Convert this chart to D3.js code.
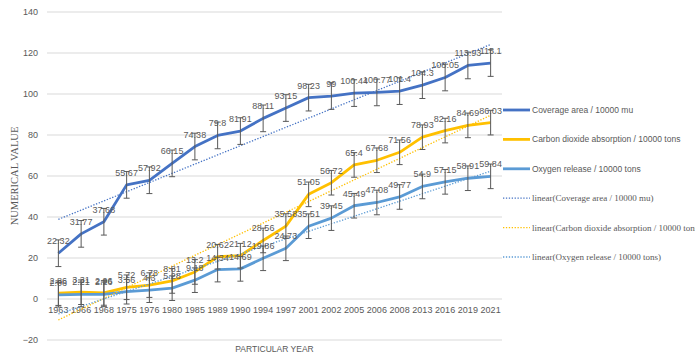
<!DOCTYPE html>
<html>
<head>
<meta charset="utf-8">
<script src="https://cdn.jsdelivr.net/npm/d3@7"></script>
<style>
  html, body { margin: 0; padding: 0; background: #fff; }
  svg { display: block; }
</style>
</head>
<body>
<svg id="chart" width="695" height="356"></svg>
<script>
// Forest growth indicators by year
const years = ["1963","1966","1968","1975","1976","1980","1985","1989","1990","1994",
               "1997","2001","2002","2005","2006","2008","2013","2016","2019","2021"];
const coverageArea = [22.32,31.77,37.68,55.67,57.92,66.15,74.38,79.8,81.91,88.11,
                      93.15,98.23,99,100.44,100.77,101.4,104.3,108.05,113.93,115.1];
const co2Absorption = [2.86,3.31,2.96,5.72,6.78,8.81,13.2,20.62,21.12,28.56,
                       35.58,51.05,56.72,65.4,67.68,71.56,78.93,82.16,84.69,86.03];
const oxygenRelease = [2.06,2.21,2.26,3.56,4.3,5.28,9.18,14.34,14.69,19.86,
                       24.73,35.51,39.45,45.49,47.08,49.77,54.9,57.15,58.91,59.84];
const yTicks = [-20,0,20,40,60,80,100,120,140];

const seriesNames = ["Coverage area / 10000 mu",
                     "Carbon dioxide absorption / 10000 tons",
                     "Oxygen release / 10000 tons"];
const errorSize = [6.5, 6, 6];
const colors = ["#4472C4", "#FFC000", "#5B9BD5"];

const series = [coverageArea, co2Absorption, oxygenRelease].map((vals, i) => ({
  name: seriesNames[i], values: vals, color: colors[i], err: errorSize[i]
}));

const svg = d3.select("#chart");
const plot = { left: 47, right: 502, top: 12, bottom: 340 };

const x = d3.scaleBand().domain(years).range([plot.left, plot.right]);
const y = d3.scaleLinear().domain([-20, 140]).range([plot.bottom, plot.top]);
const cx = d => x(d) + x.bandwidth() / 2;

// Horizontal gridlines
svg.append("g").selectAll("line").data(yTicks).join("line")
  .attr("x1", plot.left).attr("x2", plot.right)
  .attr("y1", d => y(d)).attr("y2", d => y(d))
  .attr("stroke", "#d9d9d9").attr("stroke-width", 1);

// Y axis labels
const yAxis = d3.axisLeft(y).tickValues(yTicks).tickSize(0).tickPadding(0);
const gy = svg.append("g").attr("transform", `translate(${plot.left - 9},0)`).call(yAxis);
gy.select(".domain").remove();
gy.selectAll("text").attr("fill", "#595959")
  .style("font-family", "'Liberation Sans', Arial, sans-serif").style("font-size", "9px");

// X axis labels (below the zero line)
const xAxis = d3.axisBottom(x).tickSize(0).tickPadding(0);
const gx = svg.append("g").attr("transform", `translate(0,${y(0) + 8})`).call(xAxis);
gx.select(".domain").remove();
gx.selectAll("text").attr("fill", "#595959")
  .style("font-family", "'Liberation Sans', Arial, sans-serif").style("font-size", "9px");

// Axis titles
svg.append("text")
  .attr("x", (plot.left + plot.right) / 2).attr("y", 352)
  .attr("text-anchor", "middle").attr("fill", "#595959")
  .style("font-family", "'Liberation Sans', Arial, sans-serif").style("font-size", "8.5px")
  .text("PARTICULAR YEAR");

svg.append("text")
  .attr("transform", `translate(18,${(plot.top + plot.bottom) / 2}) rotate(-90)`)
  .attr("text-anchor", "middle").attr("fill", "#595959")
  .style("font-family", "'Liberation Serif', 'Times New Roman', serif").style("font-size", "10.5px")
  .text("NUMERICAL VALUE");

// Series lines
const line = d3.line().x((d, i) => cx(years[i])).y(d => y(d));
svg.append("g").selectAll("path").data(series).join("path")
  .attr("d", s => line(s.values))
  .attr("fill", "none").attr("stroke", s => s.color)
  .attr("stroke-width", 2.8).attr("stroke-linejoin", "round");

// Linear trendlines (least squares against point index)
function linearFit(vals) {
  const n = vals.length;
  const xs = vals.map((_, i) => i + 1);
  const mx = d3.mean(xs), my = d3.mean(vals);
  const sxy = d3.sum(xs, (xv, i) => (xv - mx) * (vals[i] - my));
  const sxx = d3.sum(xs, xv => (xv - mx) * (xv - mx));
  const b = sxy / sxx, a = my - b * mx;
  return i => a + b * (i + 1);
}
const trendG = svg.append("g");
series.forEach(s => {
  const f = linearFit(s.values);
  const n = s.values.length;
  trendG.append("line")
    .attr("x1", cx(years[0])).attr("y1", y(f(0)))
    .attr("x2", cx(years[n - 1])).attr("y2", y(f(n - 1)))
    .attr("stroke", s.color).attr("stroke-width", 1.3)
    .attr("stroke-dasharray", "1.3,1.6");
});

// Error bars
const errG = svg.append("g").attr("stroke", "#595959").attr("stroke-width", 1);
series.forEach(s => {
  s.values.forEach((v, i) => {
    const px = cx(years[i]);
    errG.append("line").attr("x1", px).attr("x2", px)
      .attr("y1", y(v + s.err)).attr("y2", y(v - s.err));
    [v + s.err, v - s.err].forEach(e => {
      errG.append("line").attr("x1", px - 3).attr("x2", px + 3)
        .attr("y1", y(e)).attr("y2", y(e));
    });
  });
});

// Data labels
const labelG = svg.append("g")
  .style("font-family", "'Liberation Sans', Arial, sans-serif").style("font-size", "9px")
  .attr("fill", "#595959").attr("text-anchor", "middle");
series.forEach(s => {
  s.values.forEach((v, i) => {
    labelG.append("text")
      .attr("x", cx(years[i])).attr("y", y(v) - 9)
      .text(d3.format("")(v));
  });
});

// Legend
const legendRows = [
  ...series.map(s => ({ label: s.name, color: s.color, trend: false })),
  ...series.map(s => ({ label: `linear(${s.name})`, color: s.color, trend: true }))
];
const legend = svg.append("g");
legendRows.forEach((r, i) => {
  const ly = 110 + i * 29.4;
  legend.append("line")
    .attr("x1", 503).attr("x2", 530).attr("y1", ly).attr("y2", ly)
    .attr("stroke", r.color)
    .attr("stroke-width", r.trend ? 1.3 : 2.8)
    .attr("stroke-dasharray", r.trend ? "1.3,1.6" : null);
  legend.append("text")
    .attr("x", 532).attr("y", ly + 3)
    .attr("fill", "#595959")
    .style("font-family", r.trend ? "'Liberation Serif', 'Times New Roman', serif"
                                  : "'Liberation Sans', Arial, sans-serif")
    .style("font-size", r.trend ? "9px" : "8.5px")
    .text(r.label);
});
</script>
</body>
</html>
